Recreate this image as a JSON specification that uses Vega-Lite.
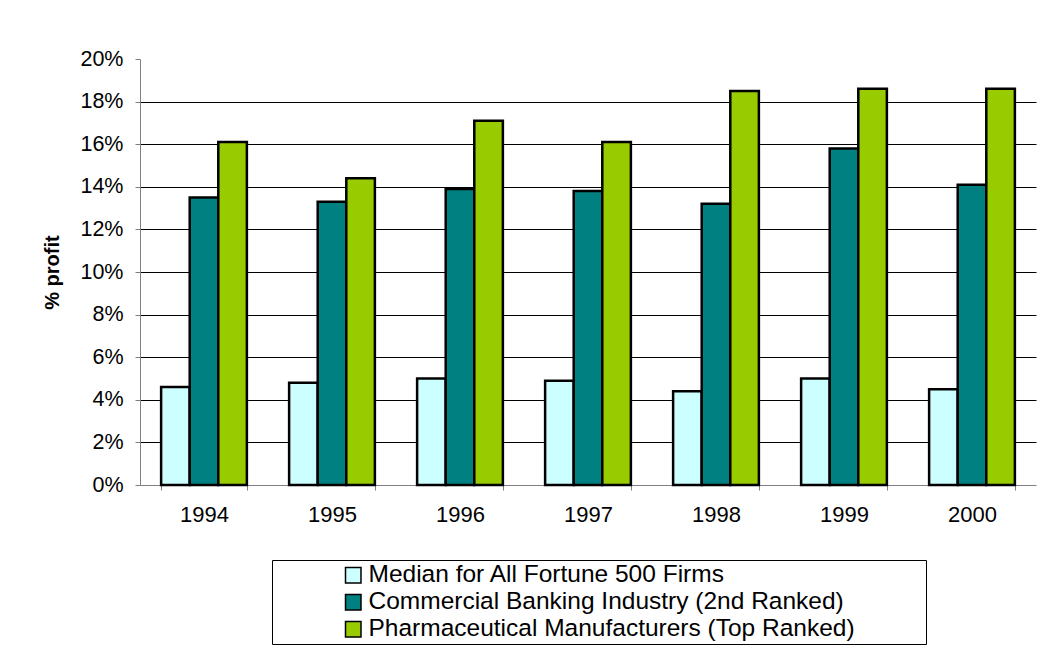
{
  "$schema": "https://vega.github.io/schema/vega-lite/v6.json",
  "autosize": {"type": "none"},
  "padding": {"left": 140, "top": 59, "right": 10, "bottom": 182},
  "width": 896,
  "height": 426,
  "background": "white",
  "config": {
    "view": {"stroke": null},
    "font": "Liberation Sans",
    "axis": {"labelFont": "Liberation Sans", "titleFont": "Liberation Sans", "labelColor": "#000", "titleColor": "#000"},
    "legend": {"labelFont": "Liberation Sans", "titleFont": "Liberation Sans"}
  },
  "data": {
    "values": [
      {"year": "1994", "series": "Median for All Fortune 500 Firms", "value": 0.046},
      {"year": "1994", "series": "Commercial Banking Industry (2nd Ranked)", "value": 0.135},
      {"year": "1994", "series": "Pharmaceutical Manufacturers (Top Ranked)", "value": 0.161},
      {"year": "1995", "series": "Median for All Fortune 500 Firms", "value": 0.048},
      {"year": "1995", "series": "Commercial Banking Industry (2nd Ranked)", "value": 0.133},
      {"year": "1995", "series": "Pharmaceutical Manufacturers (Top Ranked)", "value": 0.144},
      {"year": "1996", "series": "Median for All Fortune 500 Firms", "value": 0.050},
      {"year": "1996", "series": "Commercial Banking Industry (2nd Ranked)", "value": 0.139},
      {"year": "1996", "series": "Pharmaceutical Manufacturers (Top Ranked)", "value": 0.171},
      {"year": "1997", "series": "Median for All Fortune 500 Firms", "value": 0.049},
      {"year": "1997", "series": "Commercial Banking Industry (2nd Ranked)", "value": 0.138},
      {"year": "1997", "series": "Pharmaceutical Manufacturers (Top Ranked)", "value": 0.161},
      {"year": "1998", "series": "Median for All Fortune 500 Firms", "value": 0.044},
      {"year": "1998", "series": "Commercial Banking Industry (2nd Ranked)", "value": 0.132},
      {"year": "1998", "series": "Pharmaceutical Manufacturers (Top Ranked)", "value": 0.185},
      {"year": "1999", "series": "Median for All Fortune 500 Firms", "value": 0.050},
      {"year": "1999", "series": "Commercial Banking Industry (2nd Ranked)", "value": 0.158},
      {"year": "1999", "series": "Pharmaceutical Manufacturers (Top Ranked)", "value": 0.186},
      {"year": "2000", "series": "Median for All Fortune 500 Firms", "value": 0.045},
      {"year": "2000", "series": "Commercial Banking Industry (2nd Ranked)", "value": 0.141},
      {"year": "2000", "series": "Pharmaceutical Manufacturers (Top Ranked)", "value": 0.186}
    ]
  },
  "mark": {"type": "bar", "stroke": "#000", "strokeWidth": 2.5},
  "encoding": {
    "x": {
      "field": "year", "type": "nominal",
      "scale": {"paddingInner": 0.33, "paddingOuter": 0.165},
      "axis": {
        "title": null, "labelAngle": 0, "labelFontSize": 22, "labelPadding": 14,
        "tickBand": "extent", "tickSize": 5, "tickColor": "#808080",
        "domainColor": "#808080", "domainWidth": 1, "grid": false
      }
    },
    "xOffset": {
      "field": "series", "type": "nominal",
      "sort": ["Median for All Fortune 500 Firms", "Commercial Banking Industry (2nd Ranked)", "Pharmaceutical Manufacturers (Top Ranked)"],
      "scale": {"paddingInner": 0, "paddingOuter": 0}
    },
    "y": {
      "field": "value", "type": "quantitative",
      "scale": {"domain": [0, 0.2], "nice": false},
      "axis": {
        "title": "% profit", "titleFontSize": 20, "titleFontWeight": "bold", "titlePadding": 17,
        "format": ".0%", "values": [0, 0.02, 0.04, 0.06, 0.08, 0.1, 0.12, 0.14, 0.16, 0.18, 0.2],
        "labelFontSize": 21.5, "labelPadding": 12,
        "tickSize": 5, "tickColor": "#808080", "domainColor": "#808080",
        "grid": true, "gridColor": "#000", "gridWidth": 1,
        "gridOpacity": {"condition": {"test": "datum.value >= 0.2 || datum.value <= 0", "value": 0}, "value": 1}
      }
    },
    "color": {
      "field": "series", "type": "nominal",
      "sort": ["Median for All Fortune 500 Firms", "Commercial Banking Industry (2nd Ranked)", "Pharmaceutical Manufacturers (Top Ranked)"],
      "scale": {
        "domain": ["Median for All Fortune 500 Firms", "Commercial Banking Industry (2nd Ranked)", "Pharmaceutical Manufacturers (Top Ranked)"],
        "range": ["#CCFFFF", "#008080", "#99CC00"]
      },
      "legend": {
        "orient": "none", "legendX": 132, "legendY": 501,
        "title": "\u2800\u2800\u2800\u2800", "titleOrient": "right", "titleFontSize": 23, "titlePadding": 0,
        "strokeColor": "#000", "fillColor": "#fff", "padding": 3,
        "symbolType": "square", "symbolSize": 240, "symbolStrokeColor": "#000", "symbolStrokeWidth": 1.5,
        "symbolOpacity": 1, "symbolOffset": 66,
        "labelFontSize": 24.5, "labelOffset": 3, "labelLimit": 700, "rowPadding": 2, "labelColor": "#000"
      }
    }
  }
}
